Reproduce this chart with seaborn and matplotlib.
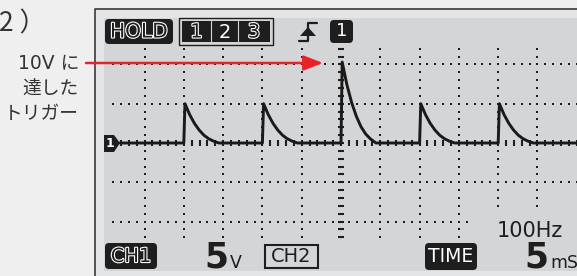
import numpy as np
import pandas as pd
import matplotlib.pyplot as plt
import seaborn as sns
from matplotlib.patches import Rectangle, FancyBboxPatch, Polygon
import matplotlib.patheffects as pe

# ---- data ---------------------------------------------------------------
# pulse start times (ms, trigger point = 0) and peak voltages
pulse_ms = [-20, -10, 0, 10, 20]
peak_v = [5.0, 5.0, 10.3, 5.0, 5.0]
# decay after each peak: ms after the peak, fraction of the peak voltage
decay_ms = [0.0, 0.6, 1.2, 1.8, 2.4, 3.0, 3.6, 4.3]
decay_frac = [1.0, 0.72, 0.50, 0.33, 0.20, 0.11, 0.05, 0.0]
trace_start_ms = -28.1

volt_div = 5      # 5 V / div
time_div = 5      # 5 ms / div
trigger_level = "10V に\n達した\nトリガー"
freq_label = "100Hz"

# ---- layout (pixels) ----------------------------------------------------
W, H = 577, 276
DIV_PX = 39.3
X0, Y0 = 341, 143            # trigger time / 0 V on screen
SCR_L, SCR_T, SCR_B = 104, 18, 271
SCREEN = "#d4d5d7"

sns.set_theme(style="white")
plt.rcParams["font.family"] = ["DejaVu Sans", "Noto Sans CJK JP"]

fig = plt.figure(figsize=(W / 100, H / 100), dpi=100, facecolor="#efefef")

# background chrome (bezel)
ax_bg = fig.add_axes([0, 0, 1, 1], zorder=0)
ax_bg.set_xlim(0, W)
ax_bg.set_ylim(H, 0)
ax_bg.axis("off")
ax_bg.add_patch(Rectangle((95, 9), W - 95, H - 9, fc="#e4e5e6", ec="none"))
ax_bg.plot([95, 95, W], [H, 8.5, 8.5], color="#3a3a3a", lw=1.2)

# scope screen in data units (ms, V)
ax = fig.add_axes([SCR_L / W, (H - SCR_B) / H, (W - SCR_L) / W, (SCR_B - SCR_T) / H],
                  zorder=1)
ax.set_facecolor(SCREEN)
ax.set_xlim((SCR_L - X0) / DIV_PX * time_div, (W - X0) / DIV_PX * time_div)
ax.set_ylim(-(SCR_B - Y0) / DIV_PX * volt_div, (Y0 - SCR_T) / DIV_PX * volt_div)
for s in ax.spines.values():
    s.set_visible(False)
ax.set_xticks([])
ax.set_yticks([])

dot = dict(marker="s", ms=1.5, ls="none", color="#1e1e1e", mew=0)
t_dots = np.arange(-29, 31, 1)
v_dots = np.arange(-12, 13, 1)
for k in [-5, -4, -3, -2, -1, 1, 2, 3, 4, 5]:
    ax.plot(np.full(v_dots.size, k * time_div), v_dots, **dot)
for k in [-2, -1, 1, 2]:
    ax.plot(t_dots, np.full(t_dots.size, k * volt_div), **dot)
# centre axes with tick marks
ax.plot(np.zeros(v_dots.size), v_dots, marker="_", ms=5, mew=1.5, ls="none", color="#1e1e1e")
ax.plot(t_dots, np.zeros(t_dots.size), marker="|", ms=4.5, mew=1.5, ls="none", color="#1e1e1e")

# trace
pts_t, pts_v = [trace_start_ms], [0.0]
for p, pk in zip(pulse_ms, peak_v):
    pts_t.append(p)
    pts_v.append(0.0)
    for dm, fr in zip(decay_ms, decay_frac):
        pts_t.append(p + 0.15 + dm)
        pts_v.append(pk * fr)
pts_t.append(ax.get_xlim()[1])
pts_v.append(0.0)
trace = pd.DataFrame({"ms": pts_t, "volt": pts_v})
sns.lineplot(data=trace, x="ms", y="volt", sort=False, estimator=None,
             color="#1a1a1a", lw=2.1, ax=ax)
ax.set_xlabel("")
ax.set_ylabel("")

# foreground chrome (labels, icons, arrow)
fg = fig.add_axes([0, 0, 1, 1], zorder=2)
fg.set_xlim(0, W)
fg.set_ylim(H, 0)
fg.axis("off")
fg.patch.set_alpha(0)

DARK = "#1e1e1e"
hollow = [pe.withStroke(linewidth=1.6, foreground="white")]


def black_box(x, y, w, h, r=4):
    fg.add_patch(FancyBboxPatch((x, y), w, h, boxstyle=f"round,pad=0,rounding_size={r}",
                                fc=DARK, ec="none"))


black_box(105, 19, 68, 25)
fg.text(139, 32, "HOLD", color=DARK, fontsize=14.5, ha="center", va="center",
        path_effects=hollow)

fg.add_patch(Rectangle((179, 18), 94, 27, fc="none", ec=DARK, lw=1.0))
fg.add_patch(Rectangle((182, 21), 88, 21, fc=DARK, ec="none"))
fg.plot([211, 211], [21, 42], color=SCREEN, lw=0.8)
fg.plot([238, 238], [21, 42], color=SCREEN, lw=0.8)
fg.text(196.5, 32, "1", color=DARK, fontsize=14, ha="center", va="center", path_effects=hollow)
fg.text(224.5, 32, "2", color="white", fontsize=14, ha="center", va="center")
fg.text(254, 32, "3", color=DARK, fontsize=14, ha="center", va="center", path_effects=hollow)

# rising-edge trigger icon
fg.plot([299, 308, 308, 317], [41, 41, 23, 23], color=DARK, lw=1.6)
fg.add_patch(Polygon([(300, 36), (316, 36), (308, 27)], fc=DARK, ec="none"))

black_box(330, 20, 23, 23)
fg.text(341.5, 31.5, "1", color="white", fontsize=13, ha="center", va="center")

# channel-1 ground marker
fg.add_patch(Polygon([(104, 135), (114, 135), (120, 143), (114, 152), (104, 152)],
                     fc=DARK, ec="none"))
fg.text(109.5, 143.5, "1", color="white", fontsize=9, fontweight="bold",
        ha="center", va="center")

# bottom readouts
fg.add_patch(Rectangle((470, 210), W - 470, SCR_B - 210, fc=SCREEN, ec="none"))
black_box(105, 243, 52, 26)
fg.text(131, 256.5, "CH1", color=DARK, fontsize=14, ha="center", va="center",
        path_effects=hollow)
fg.text(204, 268, str(volt_div), fontsize=25, fontweight="bold", color=DARK, va="baseline")
fg.text(230, 268, "V", fontsize=12.5, color=DARK, va="baseline")
fg.add_patch(Rectangle((264.5, 244.5), 53, 23.5, fc="none", ec=DARK, lw=1.5))
fg.text(291, 256.5, "CH2", color=DARK, fontsize=14, ha="center", va="center")
black_box(425, 243, 52, 27)
fg.text(451, 257, "TIME", color="white", fontsize=13.5, ha="center", va="center")
fg.text(524, 268, str(time_div), fontsize=25, fontweight="bold", color=DARK, va="baseline")
fg.text(550, 268, "mS", fontsize=12.5, color=DARK, va="baseline")
fg.text(497, 237, freq_label, fontsize=15, color=DARK, va="baseline")

# annotation on the left
fg.annotate("", xy=(323, 63), xytext=(86, 63),
            arrowprops=dict(arrowstyle="-|>,head_length=0.9,head_width=0.35",
                            color="#e8222b", lw=1.8, mutation_scale=13,
                            shrinkA=0, shrinkB=0))
fg.text(79, 89, trigger_level, fontsize=13.5, color="#333333", ha="right", va="center",
        linespacing=1.4, family=["DejaVu Sans", "Noto Sans CJK JP"])
fg.text(-1, 24, "2 ）", fontsize=19, color="#333333", ha="left", va="center",
        family=["Noto Sans CJK JP", "DejaVu Sans"])

fig.savefig("out.png", dpi=100, facecolor=fig.get_facecolor())
